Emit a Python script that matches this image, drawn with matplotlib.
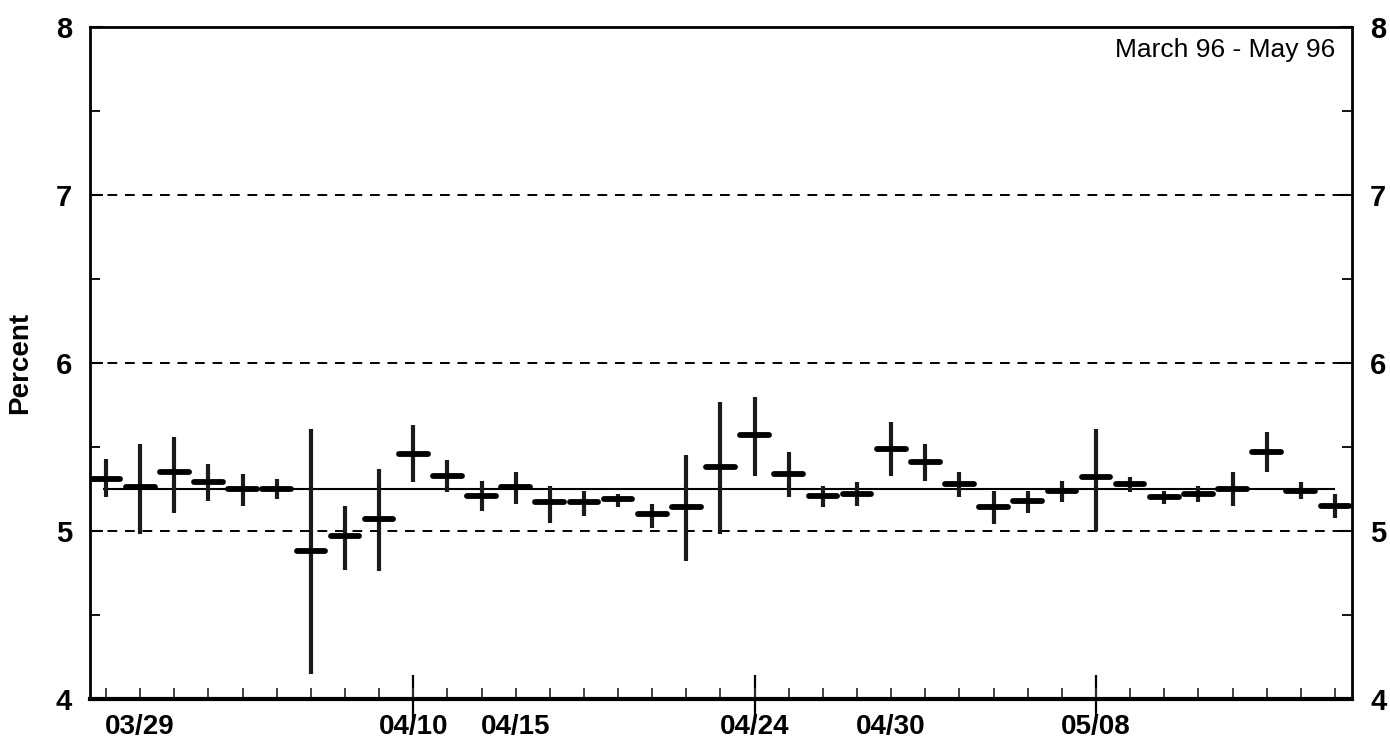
import matplotlib
matplotlib.use("Agg")
import matplotlib.pyplot as plt
from matplotlib.ticker import MultipleLocator, FixedLocator

plt.rcParams['font.family'] = ['Liberation Sans', 'DejaVu Sans']

dates = ["03/28", "03/29", "04/01", "04/02", "04/03", "04/04", "04/05", "04/08", "04/09",
         "04/10", "04/11", "04/12", "04/15", "04/16", "04/17", "04/18", "04/19", "04/22",
         "04/23", "04/24", "04/25", "04/26", "04/29", "04/30", "05/01", "05/02", "05/03",
         "05/06", "05/07", "05/08", "05/09", "05/10", "05/13", "05/14", "05/15", "05/16",
         "05/17"]
rate = [5.31, 5.26, 5.35, 5.29, 5.25, 5.25, 4.88, 4.97, 5.07, 5.46, 5.33, 5.21, 5.26,
        5.17, 5.17, 5.19, 5.10, 5.14, 5.38, 5.57, 5.34, 5.21, 5.22, 5.49, 5.41, 5.28,
        5.14, 5.18, 5.24, 5.32, 5.28, 5.20, 5.22, 5.25, 5.47, 5.24, 5.15]
high = [5.43, 5.52, 5.56, 5.40, 5.34, 5.31, 5.61, 5.15, 5.37, 5.63, 5.42, 5.30, 5.35,
        5.27, 5.24, 5.22, 5.16, 5.45, 5.77, 5.80, 5.47, 5.27, 5.29, 5.65, 5.52, 5.35,
        5.24, 5.24, 5.30, 5.61, 5.32, 5.24, 5.27, 5.35, 5.59, 5.29, 5.22]
low = [5.20, 4.98, 5.11, 5.18, 5.15, 5.19, 4.15, 4.77, 4.76, 5.29, 5.23, 5.12, 5.16,
       5.05, 5.09, 5.14, 5.02, 4.82, 4.98, 5.33, 5.20, 5.14, 5.15, 5.33, 5.30, 5.20,
       5.04, 5.11, 5.17, 5.00, 5.23, 5.16, 5.17, 5.15, 5.35, 5.19, 5.08]
target = 5.25
label_dates = ["03/29", "04/10", "04/15", "04/24", "04/30", "05/08"]
settlement_dates = ["04/10", "04/24", "05/08"]
y_ticks = [4, 5, 6, 7, 8]

x = list(range(len(dates)))
fig = plt.figure(figsize=(13.9, 7.4), dpi=100)
ax = fig.add_axes([90 / 1390, 1 - 699 / 740, 1262 / 1390, 672 / 740])

# gridlines
for v in [5, 6, 7]:
    ax.axhline(v, color='black', lw=1.4, ls=(0, (5, 4)), zorder=1)

# target line
ax.hlines(target, x[0] - 0.1, x[-1], color='black', lw=1.5, zorder=2)

# ranges
ax.vlines(x, low, high, color='#1a1a1a', lw=3.0, zorder=3)
# rate marks
ax.hlines(rate, [i - 0.42 for i in x], [i + 0.42 for i in x], color='black', lw=4.2,
          capstyle='round', zorder=4)

ax.set_xlim(-0.47, 36.5)
ax.set_ylim(4, 8)

# x ticks
lab_pos = [dates.index(d) for d in label_dates]
ax.xaxis.remove_overlapping_locs = False
ax.set_xticks(lab_pos)
ax.set_xticklabels(label_dates, fontsize=20, fontweight='bold')
ax.xaxis.set_minor_locator(FixedLocator(x))
ax.tick_params(axis='x', which='major', length=0, pad=11)
ax.tick_params(axis='x', which='minor', direction='in', length=8, width=1.3, color='#333')

sec = ax.secondary_xaxis('bottom')
sec.set_xticks([dates.index(d) for d in settlement_dates])
sec.tick_params(direction='inout', length=34, width=1.6, labelbottom=False)
sec.spines['bottom'].set_visible(False)

# y ticks
ax.set_yticks(y_ticks)
ax.set_yticklabels([str(v) for v in y_ticks], fontsize=21, fontweight='bold')
ax.yaxis.set_minor_locator(MultipleLocator(0.5))
ax.tick_params(axis='y', which='major', direction='in', length=9, width=1.5,
               left=True, right=True, labelleft=True, labelright=True, pad=13)
ax.tick_params(axis='y', which='minor', direction='in', length=7, width=1.3,
               left=True, right=True)
for t in ax.yaxis.get_major_ticks():
    t.label2.set_fontsize(21)
    t.label2.set_fontweight('bold')

for s in ax.spines.values():
    s.set_linewidth(2.0)
ax.spines['bottom'].set_linewidth(3.0)

ax.set_ylabel("Percent", fontsize=20, fontweight='bold')
ax.yaxis.set_label_coords(-0.045, 0.5)

ax.text(0.9865, 0.966, "March 96 - May 96", transform=ax.transAxes, ha='right',
        va='center', fontsize=19)

fig.savefig("out.png", dpi=100)
